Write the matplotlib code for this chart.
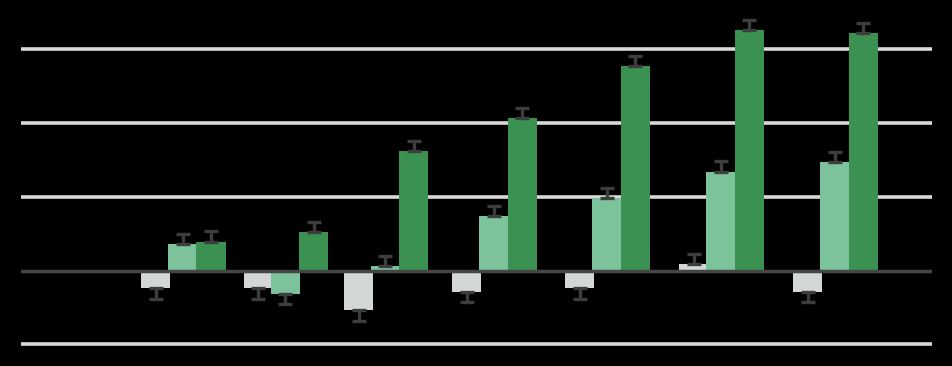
import numpy as np
import matplotlib
matplotlib.use("Agg")
import matplotlib.pyplot as plt

# group positions along a numeric x axis (uneven spacing as in the source chart)
group_x = [0.0, 0.9, 1.78, 2.73, 3.72, 4.72, 5.72]

# three series per group
gray_vals = [-0.24, -0.24, -0.54, -0.29, -0.24, 0.09, -0.29]
light_vals = [0.36, -0.32, 0.06, 0.74, 0.98, 1.34, 1.47]
dark_vals = [0.39, 0.52, 1.62, 2.07, 2.77, 3.26, 3.22]

gray_err = [0.14, 0.14, 0.14, 0.14, 0.14, 0.14, 0.14]
light_err = [0.14, 0.14, 0.14, 0.14, 0.14, 0.14, 0.14]
dark_err = [0.14, 0.14, 0.14, 0.14, 0.14, 0.14, 0.14]

y_ticks = [-1, 0, 1, 2, 3]
y_tick_labels = ["-1", "0", "1", "2", "3"]

COLORS = ["#d3d7d7", "#7cc29a", "#3a9152"]
ERR_COLOR = "#3d3d3d"
GRID_COLOR = "#d9d9d9"
ZERO_COLOR = "#464646"

W, H, DPI = 953, 366, 100
fig = plt.figure(figsize=(W / DPI, H / DPI), dpi=DPI, facecolor="black")
ax = fig.add_axes([21 / W, 0, 911 / W, 1])
ax.set_facecolor("black")

x = np.array(group_x)
width = 0.255
offsets = [-0.235, 0.0, 0.25]
series = [
    (gray_vals, gray_err),
    (light_vals, light_err),
    (dark_vals, dark_err),
]

# grid lines behind the bars
for t in y_ticks:
    if t != 0:
        ax.axhline(t, color=GRID_COLOR, lw=2.6, zorder=0)

for (vals, errs), off, col in zip(series, offsets, COLORS):
    vals = np.array(vals)
    errs = np.array(errs)
    ax.bar(x + off, vals, width=width, color=col, zorder=2)
    # one-sided error bars pointing away from zero
    lower = np.where(vals < 0, errs, 0)
    upper = np.where(vals >= 0, errs, 0)
    ax.errorbar(
        x + off,
        vals,
        yerr=[lower, upper],
        fmt="none",
        ecolor=ERR_COLOR,
        elinewidth=2.4,
        capsize=5.2,
        capthick=2.4,
        zorder=4,
    )

ax.axhline(0, color=ZERO_COLOR, lw=2.5, zorder=3)

ax.set_xlim(-1.417, 6.575)
ax.set_ylim(-(H - 270.5) / 73.7, 270.5 / 73.7)
ax.set_yticks(y_ticks)
ax.set_yticklabels(y_tick_labels, color="black", fontsize=7)
ax.tick_params(axis="y", length=0, pad=3)
ax.set_xticks([])
for s in ax.spines.values():
    s.set_visible(False)

fig.savefig("out.png", dpi=DPI, facecolor="black")
